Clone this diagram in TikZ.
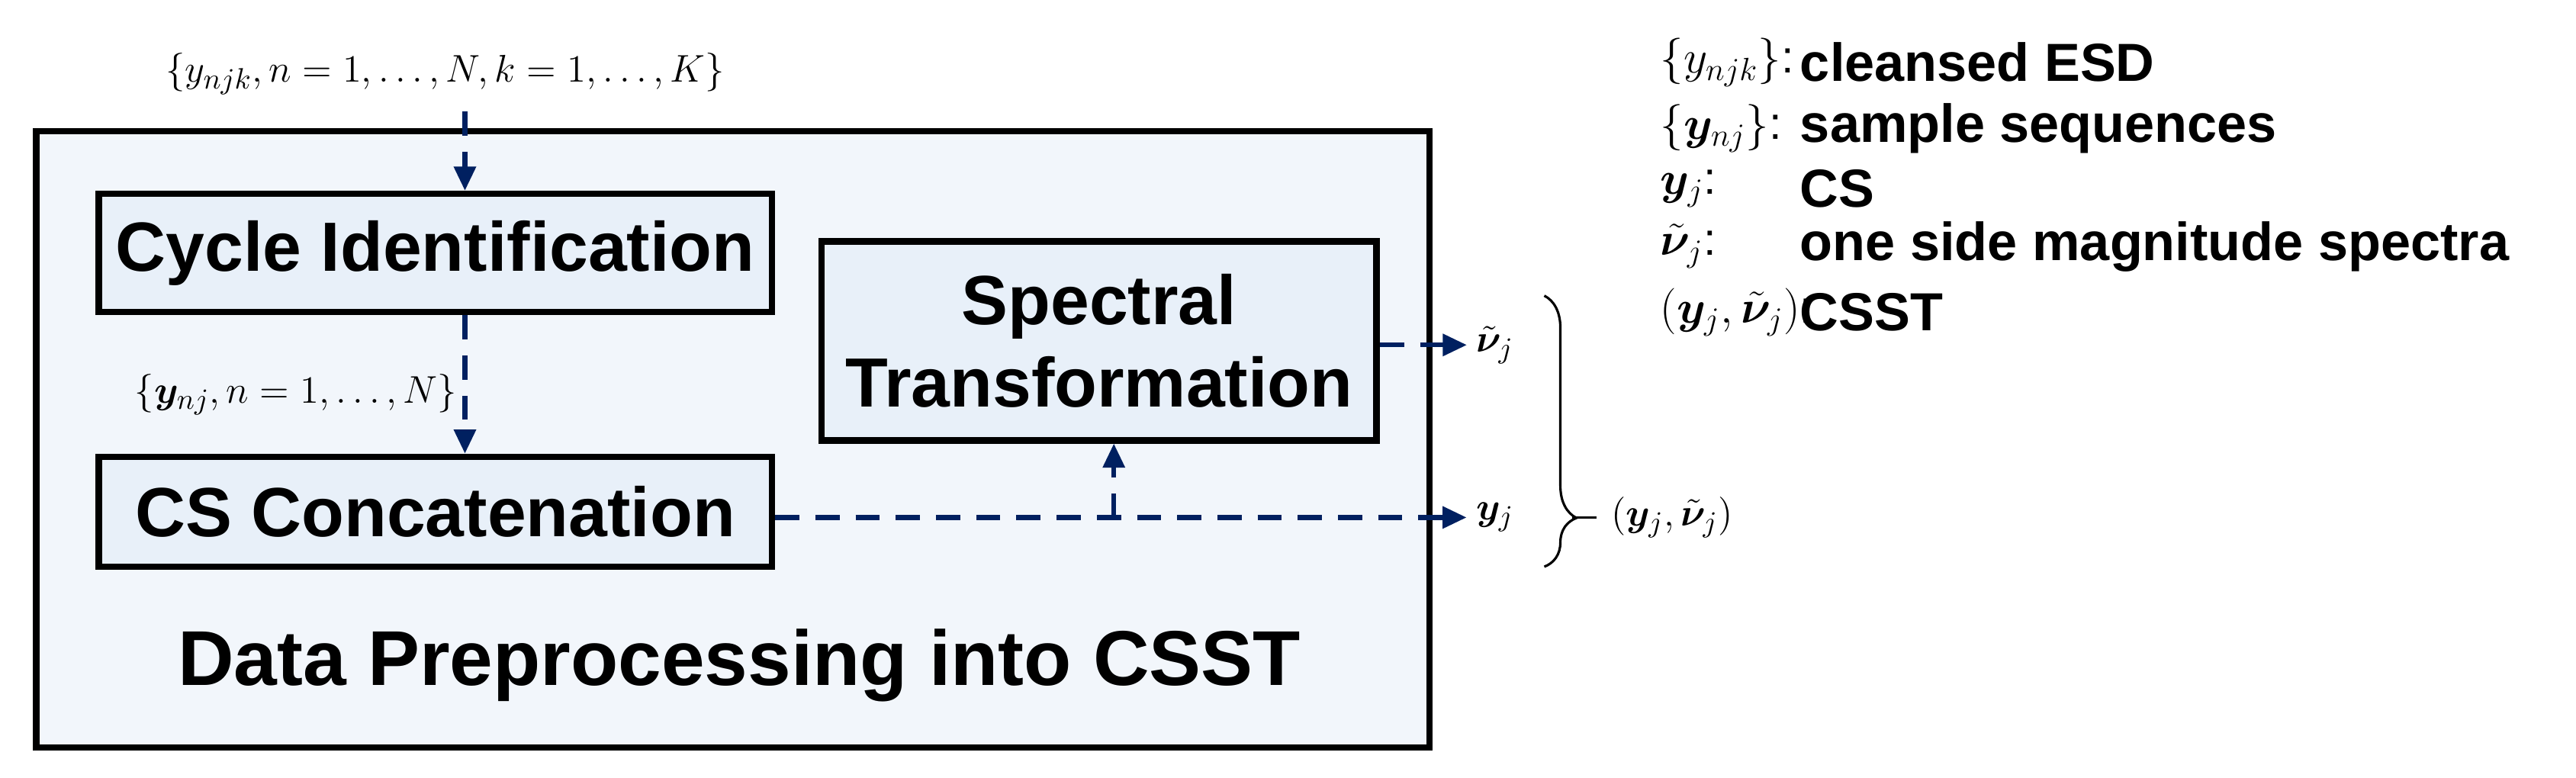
\documentclass[tikz,border=0pt]{standalone}
\usepackage{fontspec}
\usepackage{amsmath,bm}
\setmainfont{Liberation Sans}
\usetikzlibrary{arrows.meta,decorations.pathreplacing}
\definecolor{navy}{RGB}{0,32,96}
\definecolor{outerfill}{RGB}{242,246,251}
\definecolor{innerfill}{RGB}{232,240,249}
\begin{document}
\begin{tikzpicture}[x=0.02154cm,y=-0.02154cm,
  blk/.style={draw=black,line width=2.4pt,fill=innerfill,font=\fontsize{26}{31}\selectfont\bfseries,align=center,inner sep=0pt},
  flow/.style={navy,line width=1.8pt,dash pattern=on 9pt off 6pt,-{Triangle[length=9pt,width=8pt]}},
  mlab/.style={font=\fontsize{15}{18}\selectfont},
  lm/.style={font=\fontsize{17}{20}\selectfont,anchor=west},
  leg/.style={font=\fontsize{20}{24}\selectfont\bfseries,anchor=west}]
\useasboundingbox (0,0) rectangle (1568,473.5);
\node[draw=black,line width=2.4pt,fill=outerfill,inner sep=0pt,minimum width=18.27cm,minimum height=8.08cm] (outer) at (446,267.5) {};
\node[blk,minimum width=8.83cm,minimum height=1.55cm] (ci) at (265,154) {Cycle Identification};
\node[blk,minimum width=8.83cm,minimum height=1.44cm] (cs) at (265,311.5) {CS Concatenation};
\node[blk,minimum width=7.28cm,minimum height=2.61cm] (st) at (669,207.5) {Spectral\\Transformation};
\node[mlab] (in) at (271,45) {$\{y_{njk},n=1,\ldots,N,k=1,\ldots,K\}$};
\node[mlab,anchor=east] (mid) at (284,240) {$\{\bm{y}_{nj},n=1,\ldots,N\}$};
\coordinate (a0) at (283,68);
\draw[flow] (a0) -- (a0 |- ci.north);
\draw[flow] (a0 |- ci.south) -- (a0 |- cs.north);
\node[mlab] (yj) at (910,315) {$\bm{y}_j$};
\node[mlab] (vj) at (910,210) {$\tilde{\bm{\nu}}_j$};
\coordinate (br) at (678,315);
\draw[flow] (cs.east |- yj) -- (yj.west);
\draw[flow] (br) -- (br |- st.south);
\draw[flow] (st.east |- vj) -- (vj.west);
\draw[line width=0.9pt,decorate,decoration={brace,amplitude=12pt,aspect=0.82}] (940,180) -- (940,345);
\draw[line width=0.9pt] (957,315) -- (972,315);
\node[mlab,anchor=west] (pair) at (975,315) {$(\bm{y}_j,\tilde{\bm{\nu}}_j)$};
\node[font=\fontsize{29}{34}\selectfont\bfseries] (title) at (450,405) {Data Preprocessing into CSST};
\node[lm] at (1005,38) {$\{y_{njk}\}$:};
\node[lm] at (1005,78) {$\{\bm{y}_{nj}\}$:};
\node[lm] at (1005,115) {$\bm{y}_j$:};
\node[lm] at (1005,150) {$\tilde{\bm{\nu}}_j$:};
\node[lm] at (1005,190) {$(\bm{y}_j,\tilde{\bm{\nu}}_j)$:};
\node[leg] at (1090,38) {cleansed ESD};
\node[leg] at (1090,78) {sample sequences};
\node[leg] at (1090,115) {CS};
\node[leg] at (1090,150) {one side magnitude spectra};
\node[leg] at (1090,190) {CSST};
\end{tikzpicture}
\end{document}
